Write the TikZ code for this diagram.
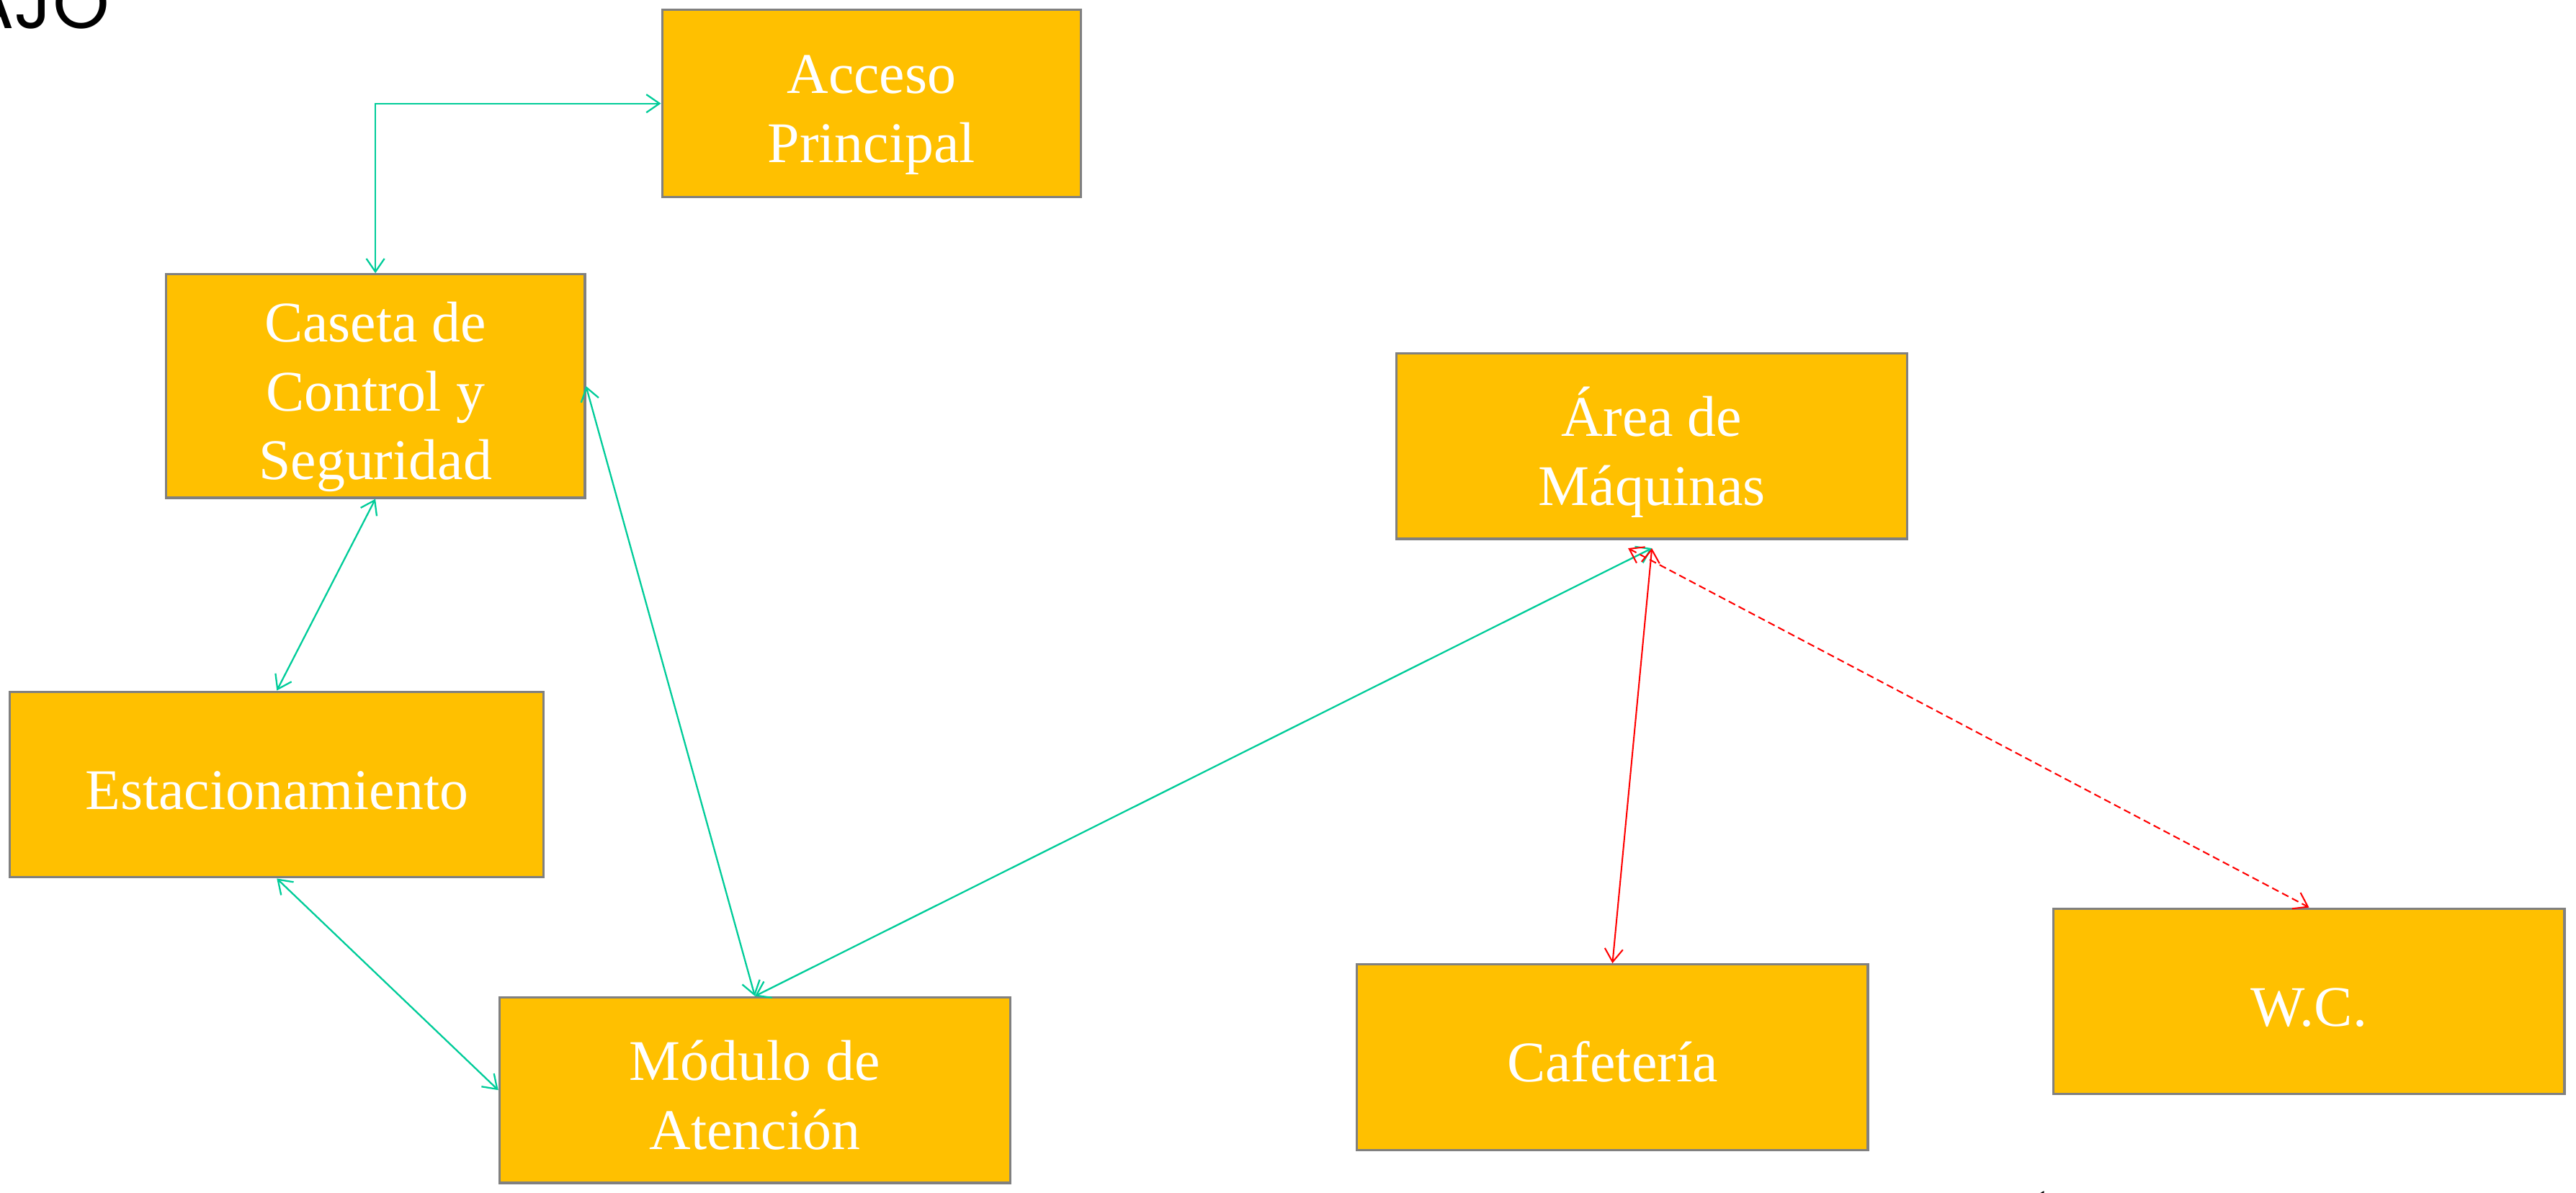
\documentclass[tikz,border=0pt]{standalone}
\usepackage{fontspec}
\setmainfont{Liberation Serif}
\newfontfamily\titlefont{Poppins}
\usetikzlibrary{arrows.meta}
\definecolor{boxgold}{HTML}{FFC000}
\definecolor{boxgray}{HTML}{808080}
\definecolor{linkgreen}{HTML}{00CC99}
\definecolor{linkred}{HTML}{FF0000}
\newcommand{\topln}{\rule{0pt}{18.8pt}}
\newcommand{\botln}{\rule[-3.8pt]{0pt}{3.8pt}}

\begin{document}
\begin{tikzpicture}[x=0.5pt,y=-0.5pt,
  area/.style={rectangle, draw=boxgray, fill=boxgold, line width=0.7pt, text=white, align=center, inner sep=0pt, minimum width=155.5pt, minimum height=56.5pt, font=\fontsize{17.5}{21}\selectfont},
  link/.style={draw=linkgreen, line width=0.5pt, {Straight Barb[length=4pt,width=5.5pt]}-{Straight Barb[length=4pt,width=5.5pt]}},
  redlink/.style={link, draw=linkred, line width=0.45pt}]
\useasboundingbox (0,0) rectangle (1568,726);
% titulo cortado
\node[anchor=base east, inner sep=0pt, font=\titlefont\fontsize{22}{26}\selectfont] (titulo) at (67,17.5) {AJO};
\node[anchor=north, inner sep=0pt, font=\titlefont\fontsize{22}{26}\selectfont] (pie) at (1240,724.5) {Ó};
% areas
\node[area, minimum width=127.5pt, minimum height=57pt] (acceso) at (530.5,63) {\topln Acceso\\Principal\botln};
\node[area, minimum width=127.5pt, minimum height=68pt] (caseta) at (228.5,235) {\topln Caseta de\\Control y\\Seguridad\botln};
\node[area] (maq) at (1005.5,271.5) {\topln Área de\\Máquinas\botln};
\node[area, minimum width=162.5pt] (estac) at (168.5,477.5) {\topln Estacionamiento\botln};
\node[area] (modulo) at (459.5,663.5) {\topln Módulo de\\Atención\botln};
\node[area] (cafe) at (981.5,643.5) {\topln Cafetería\botln};
\node[area] (wc) at (1405.5,609.5) {\topln W.C.\botln};
% relaciones
\draw[link] (caseta.north) |- (acceso.west);
\draw[link] (caseta.south) -- (estac.north);
\draw[link] (estac.south) -- (modulo.west);
\draw[link] (caseta.east) -- (modulo.north);
\coordinate (maqtip) at ([yshift=-2.5pt]maq.south);
\coordinate (maqdash) at ([xshift=-7.25pt,yshift=-2.5pt]maq.south);
\draw[link] (modulo.north) -- (maqtip);
\draw[redlink] (maqtip) -- (cafe.north);
\draw[redlink, dash pattern=on 2.2pt off 1.2pt] (maqdash) -- (wc.north);
\end{tikzpicture}
\end{document}
